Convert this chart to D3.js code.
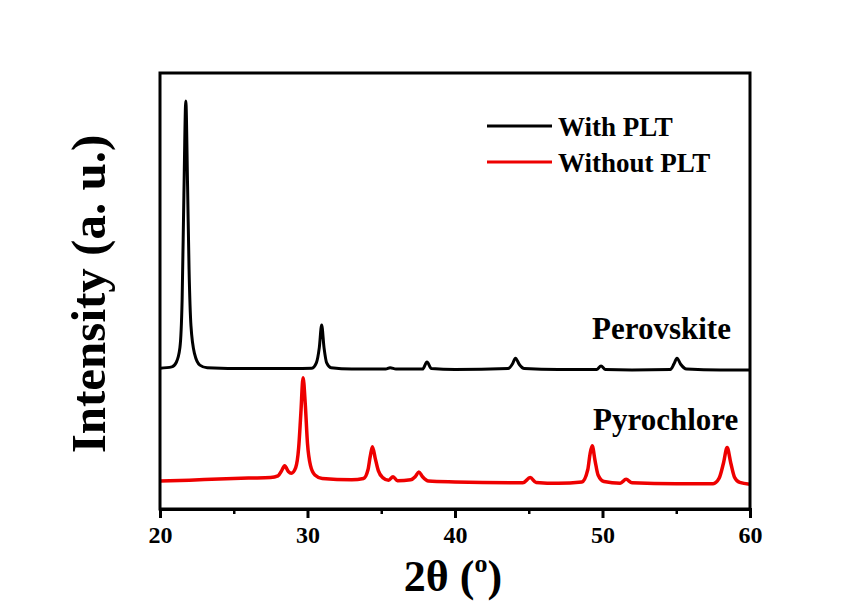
<!DOCTYPE html>
<html lang="en">
<head>
    <meta charset="UTF-8">
    <title>XRD patterns</title>
    <script src="https://d3js.org/d3.v7.min.js"></script>
    <style>
        body { margin: 0; background: #fff; }
        text { font-family: "Liberation Serif", "Times New Roman", serif; font-weight: bold; fill: #000; }
    </style>
</head>
<body>
    <svg id="chart" width="858" height="606"></svg>

    <script>
        // Diffraction data (2θ in degrees, intensity in arbitrary units)
        const withPltAngle = [20, 20.8, 21.1, 21.35, 21.5, 21.62, 21.75, 21.87, 21.97, 22.1, 22.35, 22.7, 23.2,
            26, 29, 30.3, 30.6, 30.8, 30.96, 31.12, 31.3, 31.6, 33, 35.3, 35.6, 36, 37.8, 38.1, 38.4, 40,
            43.6, 43.9, 44.1, 44.35, 44.7, 47, 49.6, 49.9, 50.2, 52, 54.6, 54.85, 55.05, 55.3, 55.7, 58, 60];
        const withPltIntensity = [32.3, 32.6, 33.6, 37, 48, 72, 93.6, 74, 55, 42, 35.5, 33, 32.4,
            32.2, 32.2, 32.3, 33.5, 37, 42.2, 37, 33.5, 32.4, 32.1, 32.1, 32.4, 32.1, 32.1, 33.7, 32.2, 32,
            32.2, 33.3, 34.6, 33.2, 32.2, 32, 32, 32.8, 32, 31.9, 32, 33.3, 34.6, 33.2, 32.1, 31.9, 31.9];

        const withoutPltAngle = [20, 22, 24, 26, 27.5, 28.0, 28.25, 28.45, 28.7, 28.9, 29.2, 29.4, 29.55, 29.7,
            29.85, 30.0, 30.2, 30.5, 31, 33, 33.8, 34.1, 34.25, 34.4, 34.6, 34.8, 35.1, 35.5, 35.8, 36.1,
            37, 37.3, 37.55, 37.8, 38.2, 40, 44.6, 45.1, 45.5, 47, 48.6, 49.0, 49.15, 49.3, 49.5, 49.7,
            50.1, 51.2, 51.6, 52.0, 55, 57.5, 57.9, 58.2, 58.45, 58.7, 58.95, 59.3, 60];
        const withoutPltIntensity = [6.4, 6.6, 6.9, 7.1, 7.2, 7.6, 8.8, 9.9, 8.6, 8.2, 9.5, 14, 22, 30.1,
            24, 15, 10, 7.8, 7.0, 6.7, 7.0, 9.0, 12, 14.3, 11.5, 8.8, 7.2, 6.6, 7.4, 6.5,
            6.7, 7.4, 8.5, 7.4, 6.4, 6.2, 6.0, 7.2, 6.1, 5.9, 6.2, 9.0, 12.5, 14.5, 11, 7.8,
            6.3, 5.9, 6.8, 6.0, 5.8, 5.8, 7.0, 10.5, 14.1, 10.5, 7.3, 6.1, 5.7];

        const seriesNames = ["With PLT", "Without PLT"];
        const seriesColors = ["#000000", "#ee0000"];
        const phaseLabels = ["Perovskite", "Pyrochlore"];
        const xTicks = [20, 30, 40, 50, 60];
        const xMinorTicks = [25, 35, 45, 55];

        const svg = d3.select("#chart");

        // Plot frame in pixel space
        const x = d3.scaleLinear().domain([20, 60]).range([160, 750]);
        const y = d3.scaleLinear().domain([0, 100]).range([509, 73]);

        const series = [
            { name: seriesNames[0], color: seriesColors[0], width: 3, points: withPltAngle.map((a, i) => [a, withPltIntensity[i]]) },
            { name: seriesNames[1], color: seriesColors[1], width: 3.5, points: withoutPltAngle.map((a, i) => [a, withoutPltIntensity[i]]) }
        ];

        const line = d3.line()
            .x(d => x(d[0]))
            .y(d => y(d[1]))
            .curve(d3.curveMonotoneX);

        svg.selectAll(".trace")
            .data(series)
            .join("path")
            .attr("class", "trace")
            .attr("d", d => line(d.points))
            .attr("fill", "none")
            .attr("stroke", d => d.color)
            .attr("stroke-width", d => d.width)
            .attr("stroke-linejoin", "round");

        // Box around the plot
        svg.append("rect")
            .attr("x", x.range()[0])
            .attr("y", y.range()[1])
            .attr("width", x.range()[1] - x.range()[0])
            .attr("height", y.range()[0] - y.range()[1])
            .attr("fill", "none")
            .attr("stroke", "#000")
            .attr("stroke-width", 3);

        // Bottom axis, major and minor ticks
        const xAxis = svg.append("g")
            .attr("transform", `translate(0,${y.range()[0]})`)
            .call(d3.axisBottom(x).tickValues(xTicks).tickSize(9).tickPadding(8).tickFormat(d3.format("d")));
        xAxis.select(".domain").attr("stroke-width", 3);
        xAxis.selectAll(".tick line").attr("stroke-width", 3);
        xAxis.selectAll(".tick text")
            .attr("font-family", "Liberation Serif, serif")
            .attr("font-weight", "bold")
            .attr("font-size", 24);

        svg.append("g")
            .attr("transform", `translate(0,${y.range()[0]})`)
            .call(d3.axisBottom(x).tickValues(xMinorTicks).tickSize(5).tickFormat(""))
            .call(g => g.select(".domain").remove())
            .selectAll(".tick line").attr("stroke-width", 2.5);

        // Axis titles
        const xTitle = svg.append("text")
            .attr("x", 453)
            .attr("y", 591)
            .attr("text-anchor", "middle")
            .attr("font-size", 44);
        xTitle.append("tspan").text("2θ (");
        xTitle.append("tspan").attr("font-size", 26).attr("dy", -19).text("o");
        xTitle.append("tspan").attr("dy", 19).text(")");

        svg.append("text")
            .attr("transform", "translate(105,294) rotate(-90)")
            .attr("text-anchor", "middle")
            .attr("font-size", 49)
            .text("Intensity (a. u.)");

        // Phase labels above each trace
        svg.append("text").attr("x", 592).attr("y", 339).attr("font-size", 31).text(phaseLabels[0]);
        svg.append("text").attr("x", 593).attr("y", 430).attr("font-size", 31).text(phaseLabels[1]);

        // Legend
        const legend = svg.append("g");
        const legendRows = [126, 162];
        series.forEach((s, i) => {
            legend.append("line")
                .attr("x1", 487).attr("x2", 552)
                .attr("y1", legendRows[i]).attr("y2", legendRows[i])
                .attr("stroke", s.color)
                .attr("stroke-width", 3);
            legend.append("text")
                .attr("x", 558)
                .attr("y", legendRows[i] + 10)
                .attr("font-size", 27)
                .text(s.name);
        });
    </script>
</body>
</html>
